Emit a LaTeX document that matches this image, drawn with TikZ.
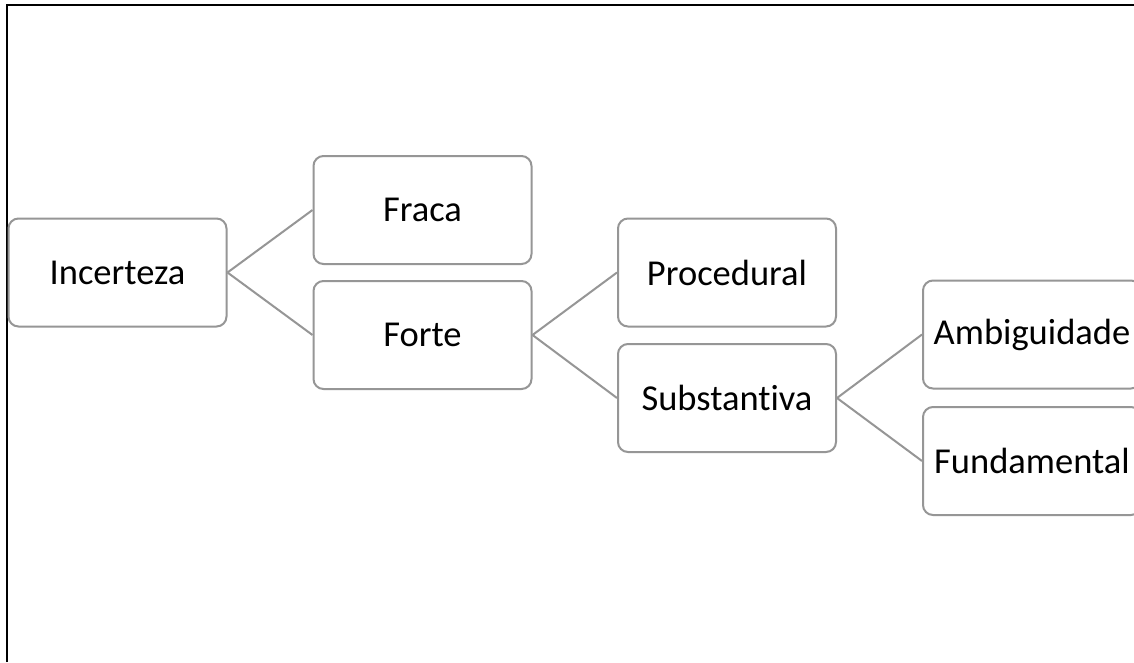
\documentclass[tikz,border=0pt]{standalone}
\usepackage{fontspec}
\setmainfont{Carlito}[Ligatures={NoCommon}]
\definecolor{boxgray}{RGB}{150,150,150}
\begin{document}
\begin{tikzpicture}[x=1pt,y=-1pt,
  treebox/.style={draw=boxgray, line width=2pt, rounded corners=10pt, fill=white,
    minimum width=218pt, minimum height=108pt, inner sep=0pt,
    font=\fontsize{36.5}{44}\selectfont, text=black},
  link/.style={draw=boxgray, line width=2pt}]
\useasboundingbox (0,0) rectangle (1134,662);
\clip (0,0) rectangle (1134,662);
\fill[white] (0,0) rectangle (1134,662);
\draw[black, line width=2.5pt] (7,662) -- (7,5) -- (1134,5);
\node[treebox] (inc) at (117.5,272.5) {Incerteza};
\node[treebox] (fra) at (422.5,210) {Fraca};
\node[treebox] (for) at (422.5,335) {Forte};
\node[treebox] (pro) at (727,272.5) {Procedural};
\node[treebox] (sub) at (727,398) {Substantiva};
\node[treebox] (amb) at (1032,334.5) {Ambiguidade};
\node[treebox] (fun) at (1032,461) {Fundamental};
\draw[link] (inc.east) -- (fra.west);
\draw[link] (inc.east) -- (for.west);
\draw[link] (for.east) -- (pro.west);
\draw[link] (for.east) -- (sub.west);
\draw[link] (sub.east) -- (amb.west);
\draw[link] (sub.east) -- (fun.west);
\end{tikzpicture}
\end{document}
